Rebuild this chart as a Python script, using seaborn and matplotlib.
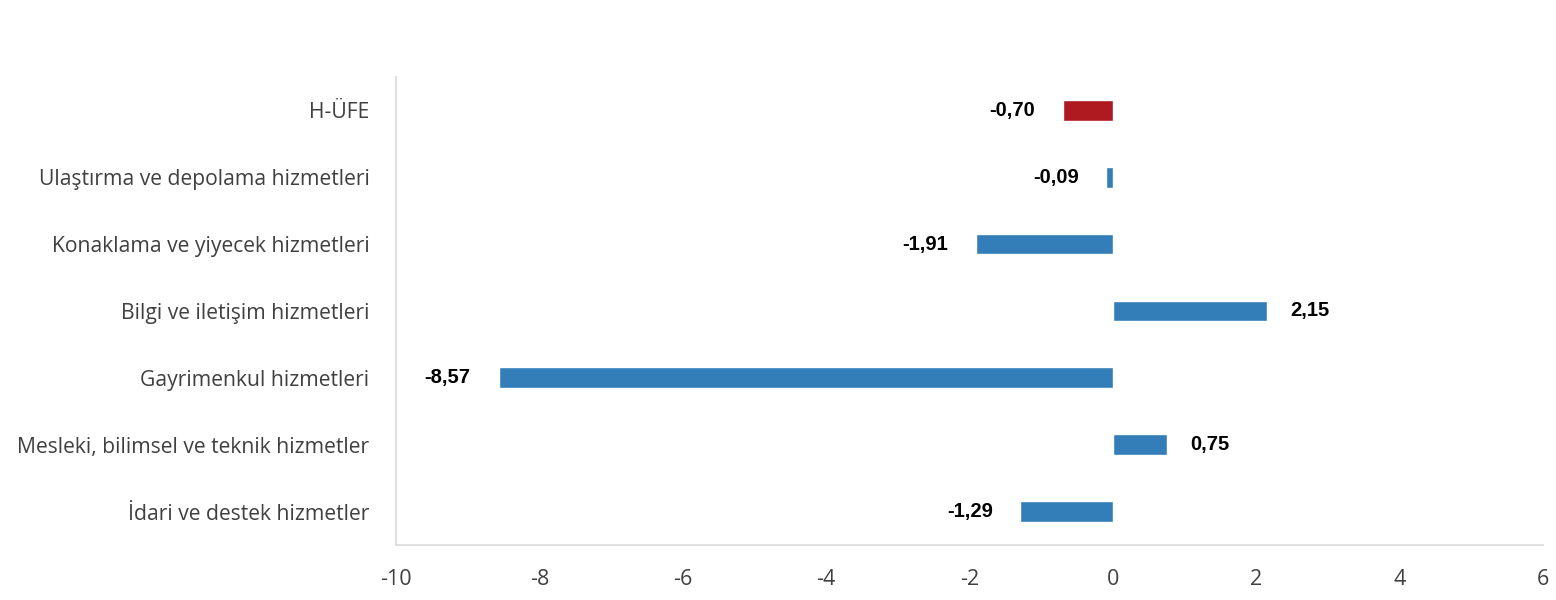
import numpy as np
import pandas as pd
import seaborn as sns
import matplotlib.pyplot as plt

# Data
categories = [
    "H-ÜFE",
    "Ulaştırma ve depolama hizmetleri",
    "Konaklama ve yiyecek hizmetleri",
    "Bilgi ve iletişim hizmetleri",
    "Gayrimenkul hizmetleri",
    "Mesleki, bilimsel ve teknik hizmetler",
    "İdari ve destek hizmetler",
]
values = [-0.70, -0.09, -1.91, 2.15, -8.57, 0.75, -1.29]
bar_colors = ["#AE1A1F"] + ["#337DB9"] * 6
xticks = [-10, -8, -6, -4, -2, 0, 2, 4, 6]

df = pd.DataFrame({"kategori": categories, "deger": values})

sns.set_style("white")
plt.rcParams["font.family"] = ["Open Sans", "DejaVu Sans"]

fig = plt.figure(figsize=(15.56, 6), dpi=100)
ax = fig.add_axes([0.2545, 0.0917, 0.7372, 0.7800])

sns.barplot(data=df, x="deger", y="kategori", hue="kategori",
            palette=bar_colors, width=0.31, legend=False, ax=ax,
            orient="h", saturation=1)

ax.set_xlim(-10, 6)
ax.set_ylim(6.5, -0.5)
ax.set_xticks(xticks)
ax.set_xticklabels([str(t) for t in xticks], fontsize=15.5, color="#404040")
ax.tick_params(axis="y", labelsize=15.2, labelcolor="#404040", length=0, pad=19)
ax.tick_params(axis="x", length=0, pad=17)
ax.set_xlabel("")
ax.set_ylabel("")

for s in ["top", "right"]:
    ax.spines[s].set_visible(False)
for s in ["left", "bottom"]:
    ax.spines[s].set_color("#D9D9D9")
    ax.spines[s].set_linewidth(1.2)

# value labels
for i, v in enumerate(values):
    txt = f"{v:.2f}".replace(".", ",")
    if v < 0:
        ax.annotate(txt, (v, i), xytext=(-20, 0), textcoords="offset points",
                    ha="right", va="center", fontsize=14.5, fontweight="bold",
                    family="Liberation Sans", color="black")
    else:
        ax.annotate(txt, (v, i), xytext=(17, 0), textcoords="offset points",
                    ha="left", va="center", fontsize=14.5, fontweight="bold",
                    family="Liberation Sans", color="black")

fig.savefig("out.png", dpi=100)
